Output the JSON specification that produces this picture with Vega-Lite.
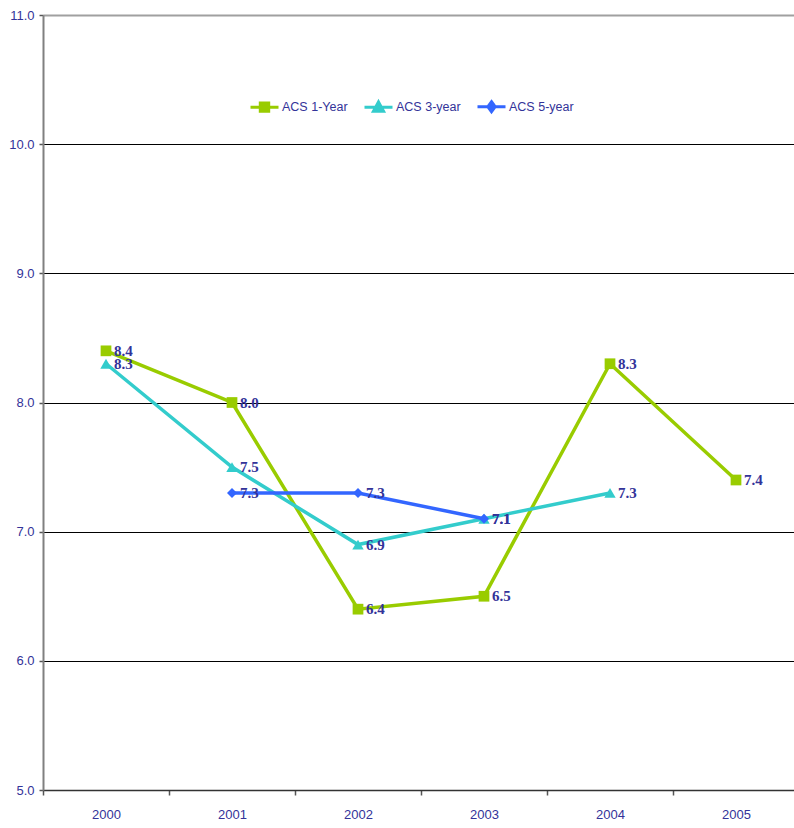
{
  "$schema": "https://vega.github.io/schema/vega-lite/v6.json",
  "width": 756,
  "height": 775,
  "autosize": {"type": "none"},
  "padding": {"left": 43, "top": 15, "right": 0, "bottom": 38},
  "background": "white",
  "config": {"view": {"stroke": null}, "font": "Liberation Sans"},
  "data": {
    "values": [
      {"series": "ACS 1-Year", "year": "2000", "value": 8.4},
      {"series": "ACS 1-Year", "year": "2001", "value": 8.0},
      {"series": "ACS 1-Year", "year": "2002", "value": 6.4},
      {"series": "ACS 1-Year", "year": "2003", "value": 6.5},
      {"series": "ACS 1-Year", "year": "2004", "value": 8.3},
      {"series": "ACS 1-Year", "year": "2005", "value": 7.4},
      {"series": "ACS 3-year", "year": "2000", "value": 8.3},
      {"series": "ACS 3-year", "year": "2001", "value": 7.5},
      {"series": "ACS 3-year", "year": "2002", "value": 6.9},
      {"series": "ACS 3-year", "year": "2003", "value": 7.1},
      {"series": "ACS 3-year", "year": "2004", "value": 7.3},
      {"series": "ACS 5-year", "year": "2001", "value": 7.3},
      {"series": "ACS 5-year", "year": "2002", "value": 7.3},
      {"series": "ACS 5-year", "year": "2003", "value": 7.1}
    ]
  },
  "encoding": {
    "x": {
      "field": "year", "type": "ordinal",
      "scale": {"type": "band", "paddingInner": 0, "paddingOuter": 0},
      "bandPosition": 0.5,
      "axis": {
        "title": null, "labelAngle": 0, "tickBand": "extent",
        "domainColor": "#333333", "domainWidth": 1.5,
        "tickColor": "#555555", "tickSize": 5, "tickWidth": 1.5,
        "labelColor": "#333399", "labelFontSize": 13, "labelPadding": 13,
        "labelFont": "Liberation Sans", "grid": false
      }
    },
    "y": {
      "field": "value", "type": "quantitative",
      "scale": {"domain": [5, 11], "nice": false, "zero": false},
      "axis": {
        "title": null, "values": [5, 6, 7, 8, 9, 10, 11], "format": ".1f",
        "grid": true,
        "gridColor": {"condition": {"test": "datum.value === 11", "value": "#a0a0a0"}, "value": "#000000"},
        "gridWidth": {"condition": {"test": "datum.value === 11", "value": 2}, "value": 1.2},
        "domainColor": "#808080", "domainWidth": 2,
        "tickColor": "#555555", "tickSize": 4, "tickWidth": 1.5,
        "labelColor": "#333399", "labelFontSize": 13, "labelPadding": 5,
        "labelFont": "Liberation Sans"
      }
    }
  },
  "layer": [
    {
      "mark": {"type": "line", "strokeWidth": 3.5},
      "encoding": {
        "color": {
          "field": "series", "type": "nominal",
          "scale": {"domain": ["ACS 1-Year", "ACS 3-year", "ACS 5-year"], "range": ["#99cc00", "#33cccc", "#3366ff"]},
          "legend": {
            "orient": "none", "legendX": 206, "legendY": 76, "direction": "horizontal",
            "title": null, "symbolSize": 784, "symbolStrokeWidth": 3,
            "labelColor": "#333399", "labelFontSize": 12.5, "labelFont": "Liberation Sans",
            "labelOffset": 2, "columnPadding": 10,
            "encode": {
              "symbols": {
                "update": {
                  "shape": {"signal": "datum.value === 'ACS 1-Year' ? 'M-1,0L1,0M-0.3,-0.3L0.3,-0.3L0.3,0.3L-0.3,0.3Z' : datum.value === 'ACS 3-year' ? 'M-1,0L1,0M0,-0.38L0.36,0.28L-0.36,0.28Z' : 'M-1,0L1,0M0,-0.36L0.26,0L0,0.36L-0.26,0Z'"},
                  "fill": {"scale": "color", "field": "value"},
                  "stroke": {"scale": "color", "field": "value"},
                  "strokeWidth": {"value": 3},
                  "size": {"value": 784},
                  "opacity": {"value": 1}
                }
              }
            }
          }
        }
      }
    },
    {
      "transform": [{"filter": "datum.series === 'ACS 1-Year'"}],
      "mark": {"type": "point", "filled": true, "opacity": 1, "size": 115, "shape": "square", "color": "#99cc00"}
    },
    {
      "transform": [{"filter": "datum.series === 'ACS 3-year'"}],
      "mark": {"type": "point", "filled": true, "opacity": 1, "size": 130, "shape": "triangle-up", "color": "#33cccc"}
    },
    {
      "transform": [{"filter": "datum.series === 'ACS 5-year'"}],
      "mark": {"type": "point", "filled": true, "opacity": 1, "size": 100, "shape": "diamond", "color": "#3366ff"}
    },
    {
      "mark": {"type": "text", "align": "left", "baseline": "middle", "dx": 8, "font": "Liberation Serif", "fontWeight": "bold", "fontSize": 15, "color": "#333399"},
      "encoding": {
        "text": {"field": "value", "type": "quantitative", "format": ".1f"}
      }
    }
  ]
}
